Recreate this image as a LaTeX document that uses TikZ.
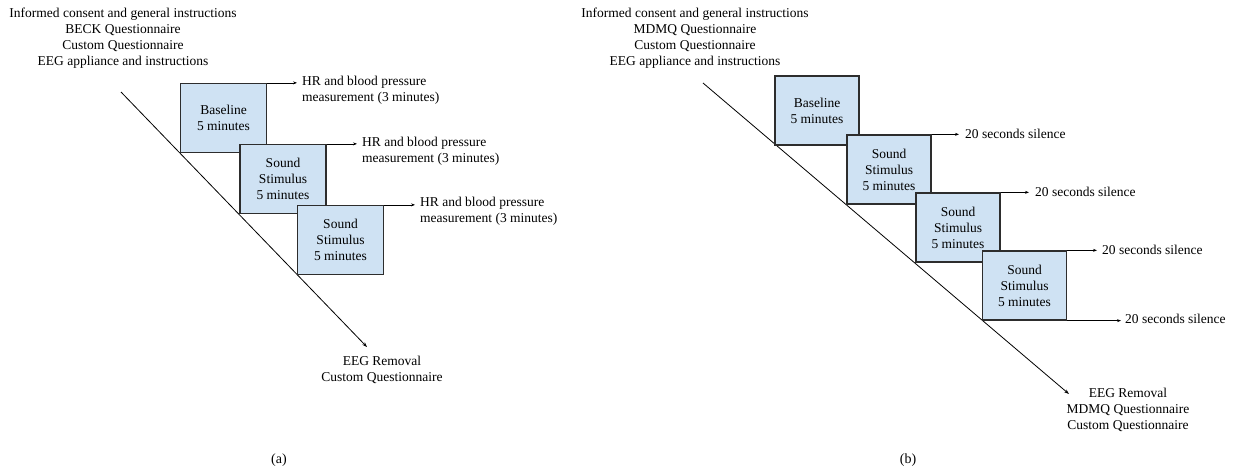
\documentclass[tikz,border=0pt]{standalone}
\usepackage{fontspec}
\setmainfont{Liberation Serif}
\usepackage{tikz}
\usetikzlibrary{arrows.meta}

\definecolor{boxblue}{RGB}{207,226,243}
\definecolor{boxline}{RGB}{45,45,45}

\begin{document}
\begin{tikzpicture}[x=1pt, y=-1pt]
    \tikzstyle{phase}=[
        draw = boxline,
        line width = 1.3pt,
        fill = boxblue,
        minimum width = 86pt,
        minimum height = 69pt,
        inner sep = 0pt,
        align = center,
        font = \fontsize{13.5}{16}\selectfont
    ]
    \tikzstyle{txt}=[
        align = center,
        inner sep = 0pt,
        font = \fontsize{13.5}{16}\selectfont
    ]
    \tikzstyle{note}=[
        align = left,
        anchor = west,
        inner sep = 0pt,
        font = \fontsize{13.5}{15.5}\selectfont
    ]
    \tikzstyle{timeline}=[draw, line width = 0.8pt, -{Stealth[length=5pt, width=3.5pt]}]
    \tikzstyle{pointer}=[draw, line width = 0.7pt, -{Stealth[length=4pt, width=3pt]}]

    \useasboundingbox (0,0) rectangle (1242,472);

    % (a)
    \node[txt] (ainfo) at (123,38) {Informed consent and general instructions\\BECK Questionnaire\\Custom Questionnaire\\EEG appliance and instructions};
    \node[txt] (aend)  at (382,370) {EEG Removal\\Custom Questionnaire};
    \coordinate (atop) at (121,92);
    \coordinate (abot) at (367,347);
    \path[timeline] (atop) -- (abot);

    \node[phase] (abase) at (223.5,118)   {Baseline\\5 minutes};
    \node[phase] (asnd1) at (283,179)     {Sound\\Stimulus\\5 minutes};
    \node[phase] (asnd2) at (340.5,240)   {Sound\\Stimulus\\5 minutes};

    \node[note] (ahr1) at (302,90)  {HR and blood pressure\\measurement (3 minutes)};
    \node[note] (ahr2) at (362,151) {HR and blood pressure\\measurement (3 minutes)};
    \node[note] (ahr3) at (420,211) {HR and blood pressure\\measurement (3 minutes)};
    \path[pointer] (abase.north east) -- ([xshift=-5pt]abase.north east -| ahr1.west);
    \path[pointer] (asnd1.north east) -- ([xshift=-5pt]asnd1.north east -| ahr2.west);
    \path[pointer] (asnd2.north east) -- ([xshift=-5pt]asnd2.north east -| ahr3.west);

    \node[txt] (acap) at (279,460) {\fontsize{14}{16}\selectfont(a)};

    % (b)
    \node[txt] (binfo) at (695,38) {Informed consent and general instructions\\MDMQ Questionnaire\\Custom Questionnaire\\EEG appliance and instructions};
    \node[txt] (bend)  at (1128,410) {EEG Removal\\MDMQ Questionnaire\\Custom Questionnaire};
    \coordinate (btop) at (703,83);
    \coordinate (bbot) at (1069,394);
    \path[timeline] (btop) -- (bbot);

    \node[phase, minimum width=84pt] (bbase) at (817,110.5)  {Baseline\\5 minutes};
    \node[phase, minimum width=84pt] (bsnd1) at (889,169.5)  {Sound\\Stimulus\\5 minutes};
    \node[phase, minimum width=84pt] (bsnd2) at (958,227.5)  {Sound\\Stimulus\\5 minutes};
    \node[phase, minimum width=84pt] (bsnd3) at (1024.5,285.5) {Sound\\Stimulus\\5 minutes};

    \node[note] (bsil1) at (965,134)  {20 seconds silence};
    \node[note] (bsil2) at (1035,192) {20 seconds silence};
    \node[note] (bsil3) at (1102,250) {20 seconds silence};
    \node[note] (bsil4) at (1125,319) {20 seconds silence};
    \path[pointer] (bsnd1.north east) -- ([xshift=-6pt]bsnd1.north east -| bsil1.west);
    \path[pointer] (bsnd2.north east) -- ([xshift=-6pt]bsnd2.north east -| bsil2.west);
    \path[pointer] (bsnd3.north east) -- ([xshift=-5pt]bsnd3.north east -| bsil3.west);
    \path[pointer] (bsnd3.south east) -- ([xshift=-4pt]bsnd3.south east -| bsil4.west);

    \node[txt] (bcap) at (908,460) {\fontsize{14}{16}\selectfont(b)};

\end{tikzpicture}
\end{document}
